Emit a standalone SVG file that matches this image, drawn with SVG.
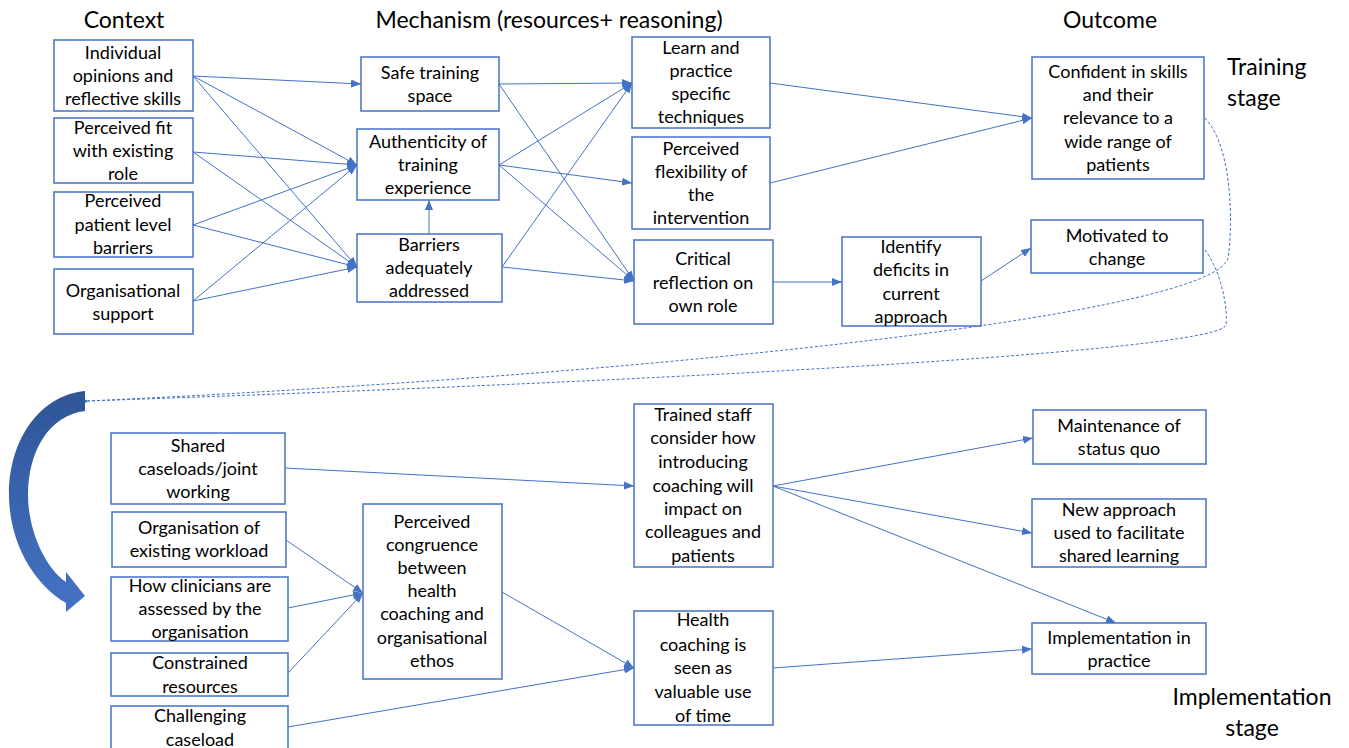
<svg xmlns="http://www.w3.org/2000/svg" width="1349" height="748" viewBox="0 0 1349 748">
<style>
.box rect{fill:#fff;stroke:#4472C4;stroke-width:1.5}
.box text,.lbl{font-family:Lato,"Liberation Sans",sans-serif;fill:#000;text-anchor:middle}
.box text{font-size:18px}
.hd{font-family:Lato,"Liberation Sans",sans-serif;font-size:23px;fill:#000}
.c{stroke:#4472C4;stroke-width:1;fill:none;marker-end:url(#ah)}
.d{stroke:#4472C4;stroke-width:1;fill:none;stroke-dasharray:3 2}
</style>
<defs>
<marker id="ah" markerWidth="10" markerHeight="8" refX="10" refY="4" orient="auto" markerUnits="userSpaceOnUse"><path d="M0,0 L10,4 L0,8 Z" fill="#4472C4"/></marker>
<marker id="ahd" markerWidth="8" markerHeight="7" refX="1" refY="3.5" orient="auto" markerUnits="userSpaceOnUse"><path d="M8,0 L0,3.5 L8,7 Z" fill="#4472C4"/></marker>
<linearGradient id="g" x1="0" y1="0" x2="0" y2="1"><stop offset="0" stop-color="#2F5597"/><stop offset="1" stop-color="#4472C4"/></linearGradient>
</defs>
<rect width="1349" height="748" fill="#fff"/>
<g id="headings">
<text class="hd" x="124" y="28" text-anchor="middle">Context</text>
<text class="hd" x="549" y="28" text-anchor="middle">Mechanism (resources+ reasoning)</text>
<text class="hd" x="1110" y="28" text-anchor="middle">Outcome</text>
<text class="hd" x="1227" y="75" font-size="24">Training</text>
<text class="hd" x="1227" y="106" font-size="24">stage</text>
<text class="hd" x="1252" y="705" text-anchor="middle" font-size="25">Implementation</text>
<text class="hd" x="1252" y="736" text-anchor="middle" font-size="25">stage</text>
</g>
<g id="connectors">
<line class="c" x1="193" y1="76" x2="361" y2="84"/>
<line class="c" x1="193" y1="76" x2="357" y2="165"/>
<line class="c" x1="193" y1="76" x2="357" y2="267"/>
<line class="c" x1="193" y1="152" x2="357" y2="165"/>
<line class="c" x1="193" y1="152" x2="357" y2="267"/>
<line class="c" x1="193" y1="225" x2="357" y2="165"/>
<line class="c" x1="193" y1="225" x2="357" y2="267"/>
<line class="c" x1="193" y1="301" x2="357" y2="165"/>
<line class="c" x1="193" y1="301" x2="357" y2="267"/>
<line class="c" x1="499" y1="84" x2="632" y2="83"/>
<line class="c" x1="499" y1="84" x2="634" y2="281"/>
<line class="c" x1="499" y1="165" x2="632" y2="83"/>
<line class="c" x1="499" y1="165" x2="632" y2="183"/>
<line class="c" x1="499" y1="165" x2="634" y2="281"/>
<line class="c" x1="502" y1="267" x2="632" y2="83"/>
<line class="c" x1="502" y1="267" x2="634" y2="281"/>
<line class="c" x1="429" y1="234" x2="429" y2="200"/>
<line class="c" x1="770" y1="83" x2="1032" y2="118"/>
<line class="c" x1="770" y1="183" x2="1032" y2="118"/>
<line class="c" x1="773" y1="282" x2="842" y2="282"/>
<line class="c" x1="981" y1="281" x2="1031" y2="248"/>
<line class="c" x1="285" y1="468" x2="634" y2="486"/>
<line class="c" x1="286" y1="540" x2="363" y2="593"/>
<line class="c" x1="288" y1="608" x2="363" y2="593"/>
<line class="c" x1="288" y1="673" x2="363" y2="593"/>
<line class="c" x1="288" y1="727" x2="634" y2="668"/>
<line class="c" x1="502" y1="592" x2="634" y2="668"/>
<line class="c" x1="773" y1="486" x2="1033" y2="438"/>
<line class="c" x1="773" y1="486" x2="1032" y2="533"/>
<line class="c" x1="773" y1="486" x2="1116" y2="623"/>
<line class="c" x1="773" y1="668" x2="1032" y2="649"/>
<path class="d" d="M1205,118 C1235,150 1232,235 1228,258 C1215,312 700,372 88,401" marker-end="url(#ahd)"/>
<path class="d" d="M1202,246 C1222,270 1228,310 1226,325 C1220,348 800,376 88,401"/>
</g>
<g id="bigarrow">
<path d="M85,391 C40,395 8,440 9,497 C10,545 35,585 66,603 L66,612 L85,596 L66,572 L66,582 C45,568 28,530 28,495 C28,450 50,415 85,411 Z" fill="url(#g)"/>
</g>
<g id="n-individual" class="box"><rect x="54" y="40" width="139" height="71"/><text x="123" y="59">Individual</text><text x="123" y="82">opinions and</text><text x="123" y="105">reflective skills</text></g>
<g id="n-fit" class="box"><rect x="54" y="118" width="139" height="65"/><text x="123" y="134">Perceived fit</text><text x="123" y="157">with existing</text><text x="123" y="180">role</text></g>
<g id="n-patient" class="box"><rect x="54" y="192" width="139" height="65"/><text x="123" y="207">Perceived</text><text x="123" y="231">patient level</text><text x="123" y="254">barriers</text></g>
<g id="n-orgsupport" class="box"><rect x="54" y="269" width="139" height="65"/><text x="123" y="297">Organisational</text><text x="123" y="320">support</text></g>
<g id="n-safe" class="box"><rect x="361" y="57" width="138" height="54"/><text x="430" y="79">Safe training</text><text x="430" y="102">space</text></g>
<g id="n-authenticity" class="box"><rect x="357" y="129" width="142" height="71"/><text x="428" y="148">Authenticity of</text><text x="428" y="171">training</text><text x="428" y="194">experience</text></g>
<g id="n-barriers" class="box"><rect x="357" y="234" width="145" height="68"/><text x="429" y="251">Barriers</text><text x="429" y="274">adequately</text><text x="429" y="297">addressed</text></g>
<g id="n-learn" class="box"><rect x="632" y="37" width="138" height="91"/><text x="701" y="54">Learn and</text><text x="701" y="77">practice</text><text x="701" y="100">specific</text><text x="701" y="123">techniques</text></g>
<g id="n-flex" class="box"><rect x="632" y="137" width="138" height="92"/><text x="701" y="155">Perceived</text><text x="701" y="178">flexibility of</text><text x="701" y="201">the</text><text x="701" y="224">intervention</text></g>
<g id="n-critical" class="box"><rect x="634" y="240" width="139" height="84"/><text x="703" y="265">Critical</text><text x="703" y="289">reflection on</text><text x="703" y="312">own role</text></g>
<g id="n-identify" class="box"><rect x="842" y="237" width="139" height="89"/><text x="911" y="253">Identify</text><text x="911" y="276">deficits in</text><text x="911" y="300">current</text><text x="911" y="323">approach</text></g>
<g id="n-confident" class="box"><rect x="1032" y="57" width="172" height="122"/><text x="1118" y="78">Confident in skills</text><text x="1118" y="101">and their</text><text x="1118" y="124">relevance to a</text><text x="1118" y="148">wide range of</text><text x="1118" y="171">patients</text></g>
<g id="n-motivated" class="box"><rect x="1031" y="220" width="172" height="53"/><text x="1117" y="242">Motivated to</text><text x="1117" y="265">change</text></g>
<g id="n-shared" class="box"><rect x="111" y="433" width="174" height="71"/><text x="198" y="452">Shared</text><text x="198" y="475">caseloads/joint</text><text x="198" y="498">working</text></g>
<g id="n-workload" class="box"><rect x="112" y="512" width="174" height="55"/><text x="199" y="534">Organisation of</text><text x="199" y="557">existing workload</text></g>
<g id="n-assessed" class="box"><rect x="111" y="577" width="177" height="64"/><text x="200" y="592">How clinicians are</text><text x="200" y="615">assessed by the</text><text x="200" y="638">organisation</text></g>
<g id="n-constrained" class="box"><rect x="111" y="653" width="177" height="43"/><text x="200" y="669">Constrained</text><text x="200" y="693">resources</text></g>
<g id="n-challenging" class="box"><rect x="111" y="706" width="177" height="50"/><text x="200" y="722">Challenging</text><text x="200" y="746">caseload</text></g>
<g id="n-congruence" class="box"><rect x="363" y="504" width="139" height="175"/><text x="432" y="528">Perceived</text><text x="432" y="551">congruence</text><text x="432" y="574">between</text><text x="432" y="597">health</text><text x="432" y="620">coaching and</text><text x="432" y="644">organisational</text><text x="432" y="667">ethos</text></g>
<g id="n-trained" class="box"><rect x="634" y="404" width="139" height="163"/><text x="703" y="421">Trained staff</text><text x="703" y="444">consider how</text><text x="703" y="468">introducing</text><text x="703" y="492">coaching will</text><text x="703" y="515">impact on</text><text x="703" y="538">colleagues and</text><text x="703" y="562">patients</text></g>
<g id="n-health" class="box"><rect x="634" y="611" width="139" height="114"/><text x="703" y="626">Health</text><text x="703" y="651">coaching is</text><text x="703" y="674">seen as</text><text x="703" y="698">valuable use</text><text x="703" y="722">of time</text></g>
<g id="n-maintenance" class="box"><rect x="1033" y="410" width="173" height="54"/><text x="1119" y="432">Maintenance of</text><text x="1119" y="455">status quo</text></g>
<g id="n-newapproach" class="box"><rect x="1032" y="499" width="174" height="68"/><text x="1119" y="516">New approach</text><text x="1119" y="539">used to facilitate</text><text x="1119" y="562">shared learning</text></g>
<g id="n-implementation" class="box"><rect x="1032" y="623" width="174" height="51"/><text x="1119" y="644">Implementation in</text><text x="1119" y="667">practice</text></g>
</svg>
